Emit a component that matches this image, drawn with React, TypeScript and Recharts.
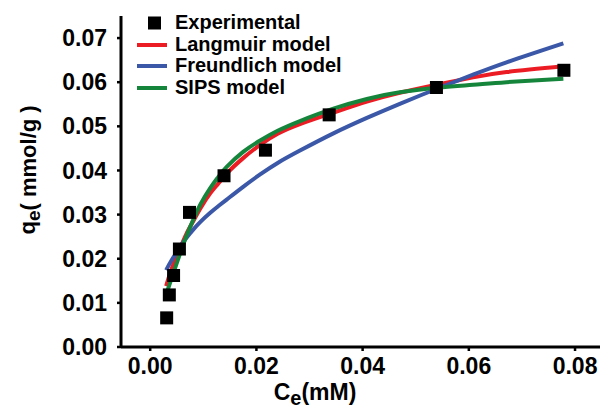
import { ComposedChart, Line, Scatter, XAxis, YAxis, Legend } from "recharts";

const FONT = "'Liberation Sans', Arial, Helvetica, sans-serif";

// measured points, Ce (mM) vs qe (mmol/g)
const experimental = [
  { c: 0.0031, q: 0.0066 },
  { c: 0.0036, q: 0.0118 },
  { c: 0.0044, q: 0.0162 },
  { c: 0.0055, q: 0.0222 },
  { c: 0.0074, q: 0.0305 },
  { c: 0.0139, q: 0.0388 },
  { c: 0.0217, q: 0.0446 },
  { c: 0.0337, q: 0.0526 },
  { c: 0.0539, q: 0.0588 },
  { c: 0.0779, q: 0.0627 },
];

// fitted curves
const modelC = [0.003, 0.004, 0.0056, 0.0068, 0.0081, 0.0095, 0.0113, 0.0128, 0.0144, 0.0175, 0.0207, 0.024, 0.0282, 0.0345, 0.0408, 0.047, 0.0546, 0.0608, 0.0671, 0.0778];
const langmuirQ = [0.0138, 0.0176, 0.0223, 0.0256, 0.0285, 0.0315, 0.0348, 0.0370, 0.0393, 0.0428, 0.0458, 0.0483, 0.0505, 0.0531, 0.0556, 0.0576, 0.0596, 0.0611, 0.0623, 0.0636];
const freundlichQ = [0.0174, 0.0196, 0.0226, 0.0247, 0.0266, 0.0284, 0.0304, 0.0319, 0.0334, 0.0363, 0.0391, 0.0417, 0.0445, 0.0484, 0.0519, 0.0551, 0.0588, 0.0617, 0.0645, 0.0688];
const sipsQ = [0.0118, 0.0155, 0.0211, 0.0251, 0.0288, 0.0324, 0.0360, 0.0385, 0.0408, 0.0442, 0.0468, 0.0490, 0.0512, 0.0540, 0.0562, 0.0577, 0.0588, 0.0594, 0.06, 0.0608];

const xTicks = [0, 0.02, 0.04, 0.06, 0.08];
const yTicks = [0, 0.01, 0.02, 0.03, 0.04, 0.05, 0.06, 0.07];

const COLORS = { langmuir: "#EC1C24", freundlich: "#3B57A7", sips: "#16853C" };

const toRows = (qs: number[]) => modelC.map((c, i) => ({ c, q: qs[i] }));
const langmuir = toRows(langmuirQ);
const freundlich = toRows(freundlichQ);
const sips = toRows(sipsQ);

const legendItems = [
  { name: "Experimental", kind: "square", color: "#000" },
  { name: "Langmuir model", kind: "line", color: COLORS.langmuir },
  { name: "Freundlich model", kind: "line", color: COLORS.freundlich },
  { name: "SIPS model", kind: "line", color: COLORS.sips },
];

function SquareDot(props: any) {
  const { cx, cy } = props;
  return <rect x={cx - 6.5} y={cy - 6.5} width={13} height={13} fill="#000" />;
}

function LegendBox() {
  return (
    <div style={{ fontFamily: FONT, fontWeight: 700, fontSize: 20, lineHeight: "21.7px", color: "#000" }}>
      {legendItems.map((it) => (
        <div key={it.name} style={{ display: "flex", alignItems: "center", height: 21.7 }}>
          <svg width={38} height={20} style={{ marginRight: 1 }}>
            {it.kind === "square" ? (
              <rect x={12} y={3.5} width={13} height={13} fill={it.color} />
            ) : (
              <line x1={1} y1={10} x2={31} y2={10} stroke={it.color} strokeWidth={4} />
            )}
          </svg>
          <span>{it.name}</span>
        </div>
      ))}
    </div>
  );
}

function XLabel(props: any) {
  const { viewBox } = props;
  const x = viewBox.x + 194;
  const y = viewBox.y + 53;
  return (
    <text x={x} y={y} textAnchor="middle" fontFamily={FONT} fontWeight={700} fontSize={23} fill="#000">
      C
      <tspan fontSize={20} dy={5}>e</tspan>
      <tspan dy={-5}>(mM)</tspan>
    </text>
  );
}

function YLabel(props: any) {
  const { viewBox } = props;
  const cx = 28;
  const cy = viewBox.y + viewBox.height * 0.465;
  return (
    <text
      x={cx}
      y={cy}
      transform={`rotate(-90, ${cx}, ${cy})`}
      textAnchor="middle"
      dominantBaseline="central"
      fontFamily={FONT}
      fontWeight={700}
      fontSize={22}
      fill="#000"
    >
      q
      <tspan fontSize={19} dy={5}>e</tspan>
      <tspan dy={-5}>( mmol/g )</tspan>
    </text>
  );
}

export default function App() {
  const tickStyle = { fontFamily: FONT, fontWeight: 700, fontSize: 23, fill: "#000" };
  return (
    <div style={{ position: "absolute", left: 0, top: 0, background: "#fff" }}>
      <ComposedChart width={602} height={412} margin={{ top: 16, right: 2, bottom: 0, left: 0 }}>
        <XAxis
          type="number"
          dataKey="c"
          domain={[-0.0055, 0.0847]}
          ticks={xTicks}
          tickFormatter={(v: number) => v.toFixed(2)}
          allowDataOverflow
          height={65}
          axisLine={{ stroke: "#000", strokeWidth: 3 }}
          tickLine={{ stroke: "#000", strokeWidth: 2.5 }}
          tickSize={4}
          tickMargin={7}
          tick={tickStyle}
          label={<XLabel />}
        />
        <YAxis
          type="number"
          dataKey="q"
          domain={[0, 0.075]}
          ticks={yTicks}
          tickFormatter={(v: number) => v.toFixed(2)}
          allowDataOverflow
          width={121}
          axisLine={{ stroke: "#000", strokeWidth: 3 }}
          tickLine={{ stroke: "#000", strokeWidth: 2.5 }}
          tickSize={4}
          tickMargin={10}
          tick={tickStyle}
          label={<YLabel />}
        />
        <Legend
          layout="vertical"
          align="center"
          verticalAlign="middle"
          wrapperStyle={{ left: 136, top: 12, width: "auto" }}
          content={<LegendBox />}
        />
        <Scatter name="Experimental" data={experimental} dataKey="q" shape={<SquareDot />} isAnimationActive={false} />
        <Line name="Langmuir model" data={langmuir} dataKey="q" type="natural" stroke={COLORS.langmuir} strokeWidth={4} dot={false} activeDot={false} isAnimationActive={false} />
        <Line name="Freundlich model" data={freundlich} dataKey="q" type="natural" stroke={COLORS.freundlich} strokeWidth={4} dot={false} activeDot={false} isAnimationActive={false} />
        <Line name="SIPS model" data={sips} dataKey="q" type="natural" stroke={COLORS.sips} strokeWidth={4} dot={false} activeDot={false} isAnimationActive={false} />
      </ComposedChart>
    </div>
  );
}
